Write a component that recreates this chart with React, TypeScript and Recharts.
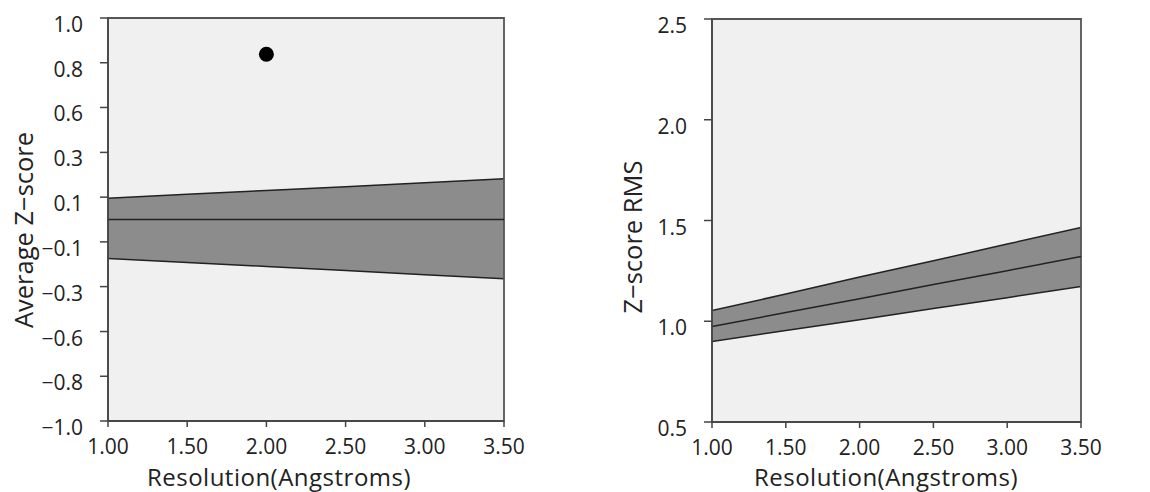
import { ComposedChart, Area, Line, Scatter, XAxis, YAxis, CartesianGrid, ReferenceArea } from "recharts"

const resolution = [1.0, 1.5, 2.0, 2.5, 3.0, 3.5]
const xTicks = [1.0, 1.5, 2.0, 2.5, 3.0, 3.5]

// left panel: average z-score band
const avgZCenter = [0.0, 0.0, 0.0, 0.0, 0.0, 0.0]
const avgZUpper = [0.105, 0.125, 0.144, 0.163, 0.183, 0.202]
const avgZLower = [-0.193, -0.213, -0.233, -0.253, -0.274, -0.294]
const avgZTicks = [-1, -0.778, -0.556, -0.333, -0.111, 0.111, 0.333, 0.556, 0.778, 1]
const outlierRes = [2.0]
const outlierZ = [0.82]

// right panel: z-score RMS band
const rmsCenter = [0.974, 1.043, 1.112, 1.182, 1.251, 1.321]
const rmsUpper = [1.053, 1.135, 1.22, 1.3, 1.383, 1.465]
const rmsLower = [0.9, 0.954, 1.008, 1.063, 1.117, 1.172]
const rmsTicks = [0.5, 1.0, 1.5, 2.0, 2.5]

const font = "'Open Sans', 'Noto Sans', sans-serif"
const axisColor = "#444"
const textColor = "#222"

const fmt = (digits: number) => (v: number) => v.toFixed(digits).replace("-", "\u2212")

const leftData = resolution.map((r, i) => ({
  res: r,
  center: avgZCenter[i],
  band: [avgZLower[i], avgZUpper[i]],
}))
const leftPoints = outlierRes.map((r, i) => ({ res: r, z: outlierZ[i] }))

const rightData = resolution.map((r, i) => ({
  res: r,
  center: rmsCenter[i],
  band: [rmsLower[i], rmsUpper[i]],
}))

const Dot = (props: any) => <circle cx={props.cx} cy={props.cy} r={7.5} fill="#000" />

// R-style tick labels: x labels hang below, y labels sit a little under the tick
const XTick = (props: any) => (
  <text x={props.x} y={props.y} textAnchor="middle" fontFamily={font} fontSize={21} fill={textColor}>
    {fmt(2)(props.payload.value)}
  </text>
)

const makeYTick = (digits: number) => (props: any) => (
  <text x={props.x} y={props.y + 14} textAnchor="end" fontFamily={font} fontSize={21} fill={textColor}>
    {fmt(digits)(props.payload.value)}
  </text>
)

interface PanelProps {
  data: any[]
  points?: any[]
  yDomain: [number, number]
  yTicks: number[]
  yDigits: number
  yLabel: string
  yLabelX: number
  yLabelY: number
  xLabelX: number
  margin: { top: number; right: number; left: number; bottom: number }
  yWidth: number
  xHeight: number
}

const Panel = ({ data, points, yDomain, yTicks, yDigits, yLabel, yLabelX, yLabelY, xLabelX, margin, yWidth, xHeight }: PanelProps) => {
  return (
    <div style={{ position: "relative", width: 575, height: 492 }}>
      <ComposedChart width={575} height={492} data={data} margin={margin} style={{ fontFamily: font }}>
        <CartesianGrid horizontal={false} vertical={false} fill="#f0f0f0" fillOpacity={1} stroke="none" />
        <XAxis
          dataKey="res"
          type="number"
          domain={[1, 3.5]}
          ticks={xTicks}
          tick={<XTick />}
          height={xHeight}
          tickSize={6}
          tickMargin={26.5}
          stroke={axisColor}
          strokeWidth={1.5}
          interval={0}
          allowDataOverflow
        />
        <YAxis
          type="number"
          domain={yDomain}
          ticks={yTicks}
          tick={makeYTick(yDigits)}
          width={yWidth}
          tickSize={8}
          tickMargin={17}
          stroke={axisColor}
          strokeWidth={1.5}
          interval={0}
          allowDataOverflow
        />
        <Area
          type="linear"
          dataKey="band"
          fill="#8c8c8c"
          fillOpacity={1}
          stroke="#222"
          strokeWidth={1.5}
          isAnimationActive={false}
        />
        <Line type="linear" dataKey="center" stroke="#222" strokeWidth={1.5} dot={false} isAnimationActive={false} />
        {points && <Scatter data={points} dataKey="z" shape={Dot} isAnimationActive={false} />}
        <ReferenceArea
          x1={1}
          x2={3.5}
          y1={yDomain[0]}
          y2={yDomain[1]}
          fill="none"
          stroke="#555"
          strokeWidth={1.8}
        />
      </ComposedChart>
      <svg width={575} height={492} style={{ position: "absolute", left: 0, top: 0, pointerEvents: "none" }}>
        <text
          x={yLabelX}
          y={yLabelY}
          transform={`rotate(-90, ${yLabelX}, ${yLabelY})`}
          textAnchor="middle"
          dominantBaseline="central"
          fontFamily={font}
          fontSize={25.5}
          fill={textColor}
        >
          {yLabel}
        </text>
        <text
          x={xLabelX}
          y={486}
          textAnchor="middle"
          fontFamily={font}
          fontSize={24}
          letterSpacing={0.5}
          fill={textColor}
        >
          Resolution(Angstroms)
        </text>
      </svg>
    </div>
  )
}

export default function App() {
  return (
    <div style={{ position: "absolute", left: 0, top: 0, width: 1150, height: 492, display: "flex", background: "#fff" }}>
      <Panel
        data={leftData}
        points={leftPoints}
        yDomain={[-1, 1]}
        yTicks={avgZTicks}
        yDigits={1}
        yLabel={"Average Z\u2212score"}
        yLabelX={23}
        yLabelY={230}
        xLabelX={279}
        margin={{ top: 18, right: 71, left: 0, bottom: 0 }}
        yWidth={108}
        xHeight={71}
      />
      <Panel
        data={rightData}
        yDomain={[0.5, 2.5]}
        yTicks={rmsTicks}
        yDigits={1}
        yLabel={"Z\u2212score RMS"}
        yLabelX={57}
        yLabelY={237}
        xLabelX={311}
        margin={{ top: 19, right: 69, left: 0, bottom: 0 }}
        yWidth={137}
        xHeight={70}
      />
    </div>
  )
}
